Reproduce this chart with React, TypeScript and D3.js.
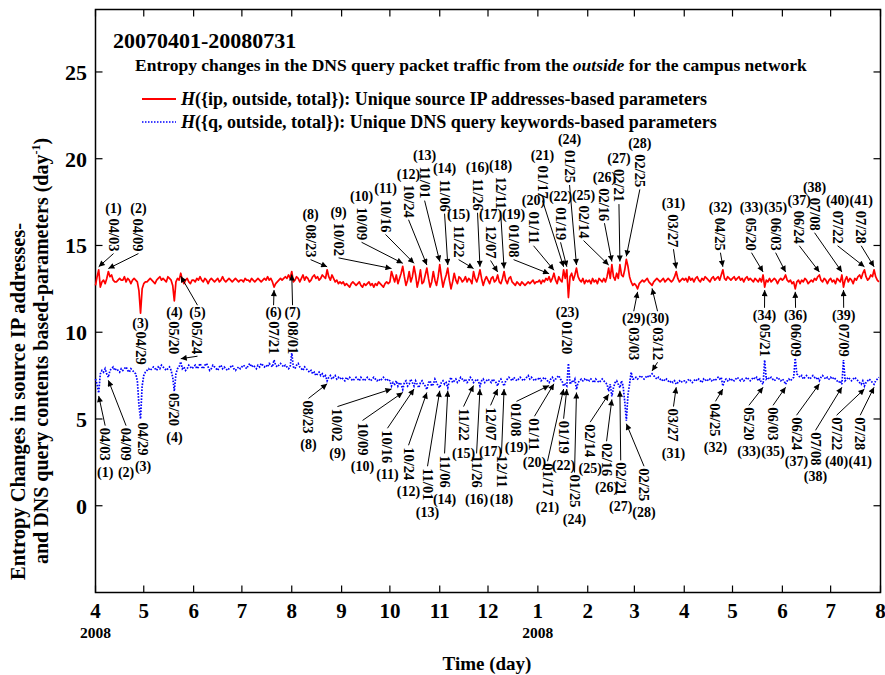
import React from 'react';
import * as d3 from 'd3';

// daily entropy values, 2007-04-01 .. 2008-07-31
const ipEntropy2007 = [
  // Apr
  12.7, 13.2, 13.6, 12.6, 12.9, 13.0, 12.8, 13.1, 13.5, 13.2, 13.3, 13.0, 12.9, 12.9, 13.0, 13.1, 13.0, 13.0, 13.2, 12.9,
  13.1, 13.0, 12.8, 13.0, 13.1, 13.0, 12.9, 12.4, 11.1, 12.5,
  // May
  12.8, 12.9, 12.9, 13.0, 13.1, 13.0, 12.9, 12.8, 13.0, 13.1, 13.2, 13.0, 13.1, 13.0, 12.9, 13.2, 13.1, 13.0, 12.7, 11.8,
  12.9, 13.1, 13.0, 13.4, 13.0, 12.8, 13.0, 13.1, 12.9, 12.8, 13.0,
  // Jun
  13.0, 12.9, 13.1, 13.0, 13.2, 13.0, 12.9, 13.1, 13.0, 12.8, 13.0, 13.1, 13.0, 12.9, 13.0, 13.1, 12.9, 13.0, 13.2, 13.0,
  12.9, 13.0, 13.1, 13.0, 12.9, 13.0, 13.1, 13.0, 12.9, 13.0,
  // Jul
  13.0, 12.9, 13.1, 13.0, 13.0, 12.9, 13.1, 13.0, 12.9, 13.0, 13.1, 13.0, 12.9, 13.0, 13.1, 13.0, 13.2, 13.0, 13.1, 12.9,
  12.6, 12.8, 12.9, 13.0, 13.1, 13.0, 13.1, 13.2, 13.1, 13.3, 13.1,
  // Aug
  13.5, 12.9, 13.0, 13.2, 13.1, 12.9, 13.1, 13.3, 13.0, 13.2, 13.1, 12.9, 13.0, 13.2, 13.3, 13.1, 13.2, 13.0, 13.1, 13.3,
  13.2, 13.1, 13.6, 13.2, 13.0, 13.3, 13.1, 12.9, 13.0, 12.8, 12.9,
  // Sep
  12.8, 12.9, 12.7, 12.8, 12.7, 12.6, 12.8, 12.9, 12.8, 12.7, 12.8, 12.9, 12.7, 12.6, 12.8, 12.7, 12.8, 12.9, 12.7, 12.8,
  12.6, 12.8, 12.7, 12.9, 12.8, 12.7, 12.6, 12.8, 12.9, 12.8,
  // Oct
  12.9, 13.5, 13.2, 12.9, 13.3, 12.8, 13.1, 13.4, 13.8, 13.2, 12.7, 13.0, 13.5, 12.9, 13.2, 13.8, 13.3, 12.6, 13.0, 13.6,
  12.8, 12.9, 13.3, 13.7, 13.1, 12.6, 12.9, 13.5, 13.0, 12.7, 13.2,
  // Nov
  13.9, 13.2, 12.6, 13.0, 13.3, 13.7, 13.0, 12.5, 12.9, 13.4, 13.0, 12.8, 13.2, 13.1, 12.9, 13.0, 13.2, 12.9, 13.1, 13.0,
  12.8, 13.5, 13.1, 12.9, 13.2, 13.6, 13.1, 12.7, 13.0, 13.2,
  // Dec
  13.0, 12.8, 13.1, 13.2, 12.9, 13.0, 13.3, 12.9, 12.8, 13.1, 13.5, 13.0, 12.8, 13.1, 13.2, 12.9, 12.8, 12.7, 12.9, 12.8,
  12.7, 12.9, 12.8, 12.7, 12.8, 12.9, 12.8, 12.9, 13.0, 12.8, 12.9,
];

const ipEntropy2008 = [
  // Jan
  12.9, 13.0, 12.8, 13.0, 12.9, 13.1, 13.0, 13.2, 12.9, 13.1, 13.4, 13.0, 12.8, 13.2, 13.0, 12.9, 13.6, 13.1, 13.6, 12.0,
  13.2, 13.4, 13.0, 13.3, 13.7, 13.2, 13.0, 12.9, 13.1, 12.8, 13.0,
  // Feb
  12.9, 13.0, 12.8, 13.1, 12.9, 13.0, 12.8, 13.1, 13.0, 12.9, 13.1, 12.9, 13.2, 13.7, 13.1, 13.9, 13.2, 13.0, 13.4, 13.1,
  13.9, 13.3, 13.2, 13.6, 14.2, 13.8, 13.2, 12.9, 12.7,
  // Mar
  12.8, 12.7, 12.5, 12.8, 12.9, 13.0, 12.9, 13.0, 13.1, 12.9, 12.8, 12.7, 12.9, 13.0, 13.1, 13.0, 12.9, 13.0, 13.1, 12.9,
  13.0, 13.1, 13.0, 12.9, 13.0, 13.2, 13.5, 13.1, 12.9, 13.0, 13.1,
  // Apr
  13.0, 13.1, 12.9, 13.2, 13.0, 13.1, 12.9, 13.1, 13.2, 13.0, 12.9, 13.1, 13.0, 13.2, 13.1, 13.0, 12.9, 13.1, 13.2, 13.0,
  13.1, 13.2, 13.0, 13.3, 13.6, 13.1, 13.0, 13.2, 13.1, 13.0,
  // May
  13.1, 13.2, 13.0, 13.1, 13.2, 13.0, 13.1, 12.9, 13.1, 13.2, 13.0, 13.1, 13.0, 12.9, 13.1, 13.0, 12.9, 13.1, 12.9, 13.3,
  12.6, 13.0, 12.9, 13.1, 12.9, 13.0, 13.1, 13.0, 12.8, 13.0, 13.1,
  // Jun
  13.0, 13.1, 13.3, 13.0, 12.9, 13.0, 12.8, 12.9, 12.5, 12.9, 13.0, 12.8, 13.0, 12.9, 13.1, 13.0, 12.8, 12.9, 13.0, 12.9,
  13.1, 13.0, 13.2, 13.3, 13.0, 12.9, 13.1, 13.0, 12.8, 13.0,
  // Jul
  13.1, 12.9, 13.0, 12.8, 13.1, 13.0, 12.9, 13.3, 12.6, 13.0, 13.2, 12.9, 13.1, 13.0, 12.8, 13.1, 13.0, 13.2, 13.3, 13.1,
  13.4, 13.6, 13.2, 13.0, 13.1, 13.3, 13.2, 13.6, 13.2, 13.0, 12.9,
];

const queryEntropy2007 = [
  // Apr
  7.3, 7.0, 6.5, 7.6, 7.8, 7.7, 7.9, 7.6, 7.4, 7.8, 7.9, 8.0, 7.8, 7.9, 7.8, 7.7, 7.9, 7.8, 7.9, 8.0,
  7.8, 7.7, 7.9, 7.8, 7.7, 7.6, 7.2, 5.8, 5.0, 6.9,
  // May
  7.5, 7.7, 7.8, 7.9, 7.8, 7.9, 8.0, 7.9, 7.8, 8.0, 7.9, 8.1, 8.0, 7.9, 7.8, 7.9, 8.0, 7.8, 7.4, 6.6,
  7.6, 7.9, 8.0, 8.3, 7.9, 8.0, 7.8, 7.9, 8.1, 8.0, 7.9,
  // Jun
  8.0, 8.1, 7.9, 8.0, 8.2, 8.0, 7.9, 8.1, 8.2, 8.0, 7.8, 7.9, 8.1, 8.0, 7.9, 7.8, 8.0, 8.1, 7.9, 8.0,
  7.9, 7.8, 7.9, 8.0, 8.1, 7.9, 7.8, 7.9, 8.0, 7.9,
  // Jul
  8.0, 8.1, 8.0, 7.9, 8.1, 8.2, 8.0, 8.1, 8.0, 7.9, 8.1, 8.0, 8.2, 8.1, 8.0, 8.1, 8.0, 8.2, 8.1, 8.0,
  8.4, 8.1, 8.0, 8.1, 8.2, 8.1, 8.0, 8.1, 8.0, 7.9, 8.0,
  // Aug
  8.8, 8.0, 7.9, 8.1, 8.2, 8.0, 7.9, 7.8, 8.0, 7.9, 7.8, 7.7, 7.8, 7.6, 7.7, 7.5, 7.6, 7.7, 7.5, 7.6,
  7.4, 7.5, 7.2, 7.4, 7.5, 7.3, 7.4, 7.5, 7.3, 7.4, 7.3,
  // Sep
  7.4, 7.3, 7.2, 7.4, 7.3, 7.4, 7.3, 7.2, 7.3, 7.4, 7.3, 7.2, 7.4, 7.3, 7.2, 7.3, 7.4, 7.3, 7.2, 7.3,
  7.4, 7.3, 7.2, 7.3, 7.2, 7.3, 7.4, 7.3, 7.2, 7.3,
  // Oct
  7.2, 6.9, 7.1, 7.0, 7.2, 6.9, 7.1, 7.0, 6.7, 7.1, 7.2, 6.9, 7.0, 7.3, 7.1, 6.9, 7.2, 7.0, 6.8, 7.1,
  7.2, 7.0, 6.9, 6.7, 7.1, 7.2, 6.9, 7.0, 7.3, 7.1, 6.9,
  // Nov
  6.8, 7.1, 7.2, 7.0, 7.1, 6.8, 7.2, 7.4, 7.1, 7.2, 7.3, 7.1, 7.2, 7.4, 7.3, 7.2, 7.3, 7.1, 7.2, 7.4,
  7.3, 7.1, 7.2, 7.3, 7.2, 6.9, 7.2, 7.3, 7.1, 7.2,
  // Dec
  7.3, 7.2, 7.1, 7.3, 7.2, 7.1, 6.9, 7.2, 7.3, 7.1, 6.9, 7.2, 7.3, 7.4, 7.3, 7.2, 7.4, 7.3, 7.2, 7.3,
  7.4, 7.3, 7.2, 7.3, 7.4, 7.5, 7.3, 7.4, 7.3, 7.2, 7.3,
];

const queryEntropy2008 = [
  // Jan
  7.3, 7.4, 7.2, 7.3, 7.4, 7.3, 7.2, 7.1, 7.3, 7.4, 7.2, 7.3, 7.4, 7.5, 7.3, 7.2, 6.9, 7.0, 6.9, 8.2,
  7.0, 7.2, 7.1, 7.3, 6.7, 7.1, 7.2, 7.3, 7.2, 7.3, 7.2,
  // Feb
  7.3, 7.2, 7.3, 7.2, 7.1, 7.3, 7.2, 7.1, 7.2, 7.3, 7.2, 7.1, 7.0, 6.6, 7.0, 6.3, 6.8, 7.1, 7.2, 7.0,
  6.8, 7.2, 6.9, 6.0, 4.9, 6.4, 7.0, 7.7, 7.3,
  // Mar
  7.3, 7.4, 7.3, 7.4, 7.5, 7.4, 7.3, 7.4, 7.5, 7.4, 7.5, 7.6, 7.5, 7.4, 7.3, 7.4, 7.3, 7.2, 7.3, 7.2,
  7.3, 7.2, 7.1, 7.2, 7.1, 7.2, 7.0, 7.1, 7.2, 7.1, 7.2,
  // Apr
  7.2, 7.1, 7.2, 7.3, 7.2, 7.1, 7.2, 7.3, 7.2, 7.3, 7.2, 7.1, 7.3, 7.2, 7.3, 7.2, 7.3, 7.2, 7.3, 7.2,
  7.3, 7.4, 7.3, 7.4, 6.9, 7.2, 7.3, 7.2, 7.3, 7.2,
  // May
  7.3, 7.2, 7.3, 7.4, 7.3, 7.2, 7.3, 7.2, 7.3, 7.4, 7.3, 7.2, 7.3, 7.4, 7.3, 7.4, 7.2, 7.3, 7.1, 7.0,
  8.4, 7.3, 7.4, 7.3, 7.4, 7.3, 7.2, 7.3, 7.4, 7.3, 7.2,
  // Jun
  7.3, 7.2, 7.0, 7.2, 7.3, 7.2, 7.3, 7.4, 8.5, 7.6, 7.5, 7.4, 7.5, 7.3, 7.4, 7.5, 7.4, 7.3, 7.4, 7.5,
  7.4, 7.3, 7.4, 7.2, 7.4, 7.5, 7.4, 7.3, 7.4, 7.3,
  // Jul
  7.4, 7.3, 7.4, 7.3, 7.2, 7.1, 7.2, 7.0, 8.4, 7.2, 7.3, 7.4, 7.3, 7.2, 7.3, 7.4, 7.3, 7.2, 7.1, 7.0,
  7.2, 6.9, 7.1, 7.2, 7.3, 7.2, 7.1, 7.0, 7.2, 7.3, 7.4,
];

const monthLabels = ['4', '5', '6', '7', '8', '9', '10', '11', '12', '1', '2', '3', '4', '5', '6', '7', '8'];
const yearLabels = ['2008', '', '', '', '', '', '', '', '', '2008', '', '', '', '', '', '', ''];
const yTickValues = [0, 5, 10, 15, 20, 25];

// annotations above the ip curve: [no, date, label day (from 2007-04-01), label value]
const ipAboveNotes: [number, string, number, number][] = [
  [1, '2007-04-03', 11.2, 14.65], [2, '2007-04-09', 26.7, 14.65], [8, '2007-08-23', 133.7, 14.3],
  [9, '2007-10-02', 151.1, 14.4], [10, '2007-10-09', 165.4, 15.3], [11, '2007-10-16', 180.3, 15.75],
  [12, '2007-10-24', 194.6, 16.6], [13, '2007-11-01', 204.6, 17.7], [14, '2007-11-06', 217.0, 16.95],
  [15, '2007-11-22', 225.7, 14.3], [16, '2007-11-26', 237.5, 17.0], [17, '2007-12-07', 245.6, 14.25],
  [18, '2007-12-11', 251.8, 17.1], [19, '2008-01-08', 259.9, 14.3], [20, '2008-01-11', 272.3, 15.1],
  [21, '2008-01-17', 277.9, 17.7], [22, '2008-01-19', 289.1, 15.3], [24, '2008-01-25', 294.7, 18.6],
  [25, '2008-02-14', 303.4, 15.4], [26, '2008-02-16', 316.4, 16.4], [27, '2008-02-21', 325.4, 17.5],
  [28, '2008-02-25', 338.4, 18.35], [31, '2008-03-27', 359.3, 14.9], [32, '2008-04-25', 388.5, 14.7],
  [33, '2008-05-20', 407.8, 14.7], [35, '2008-06-03', 422.8, 14.7], [37, '2008-06-24', 437.5, 15.1],
  [38, '2008-07-08', 447.0, 15.85], [40, '2008-07-22', 461.3, 15.1], [41, '2008-07-28', 476.0, 15.1],
];

// annotations between the curves: [no, date, label day, label value, arrow to ip, arrow to query]
const midNotes: [number, string, number, number, boolean, boolean][] = [
  [3, '2007-04-29', 28.0, 10.9, false, false], [4, '2007-05-20', 49.1, 11.5, false, false],
  [5, '2007-05-24', 63.4, 11.5, true, true], [6, '2007-07-21', 110.7, 11.5, true, false],
  [7, '2007-08-01', 122.5, 11.5, true, false], [23, '2008-01-20', 293.4, 11.5, false, false],
  [29, '2008-03-03', 334.6, 11.15, true, false], [30, '2008-03-12', 349.4, 11.15, true, true],
  [34, '2008-05-21', 415.9, 11.35, true, false], [36, '2008-06-09', 435.2, 11.35, true, false],
  [39, '2008-07-09', 465.1, 11.35, true, false],
];

// annotations below the query curve: [no, date, label day, label value, arrow]
const queryBelowNotes: [number, string, number, number, boolean][] = [
  [1, '2007-04-03', 6.0, 4.5, true], [2, '2007-04-09', 19.0, 4.5, true], [3, '2007-04-29', 29.6, 4.8, false],
  [4, '2007-05-20', 49.1, 6.5, false], [8, '2007-08-23', 132.4, 6.07, true], [9, '2007-10-02', 150.4, 5.6, true],
  [10, '2007-10-09', 166.0, 4.8, true], [11, '2007-10-16', 181.5, 4.35, true], [12, '2007-10-24', 194.6, 3.37, true],
  [13, '2007-11-01', 206.4, 2.16, true], [14, '2007-11-06', 217.0, 2.9, true], [15, '2007-11-22', 228.8, 5.6, true],
  [16, '2007-11-26', 236.9, 2.9, true], [17, '2007-12-07', 245.6, 5.67, true], [18, '2007-12-11', 252.4, 2.9, true],
  [19, '2008-01-08', 261.7, 5.9, true], [20, '2008-01-11', 272.9, 5.04, true], [21, '2008-01-17', 281.0, 2.45, true],
  [22, '2008-01-19', 291.0, 4.9, true], [24, '2008-01-25', 297.8, 1.8, true], [25, '2008-02-14', 307.5, 4.7, true],
  [26, '2008-02-16', 317.7, 3.6, true], [27, '2008-02-21', 326.5, 2.5, true], [28, '2008-02-25', 341.0, 2.16, true],
  [31, '2008-03-27', 359.3, 5.6, true], [32, '2008-04-25', 385.4, 5.9, true], [33, '2008-05-20', 406.2, 5.67, true],
  [35, '2008-06-03', 421.2, 5.67, true], [37, '2008-06-24', 435.8, 5.1, true], [38, '2008-07-08', 447.6, 4.23, true],
  [40, '2008-07-22', 460.7, 5.1, true], [41, '2008-07-28', 475.4, 5.1, true],
];

const FONT = '"Liberation Serif", "Times New Roman", serif';
const DATE_LEN = 34;

const parse = d3.timeParse('%Y-%m-%d');
const fmt = d3.timeFormat('%m/%d');

type Pt = { date: Date; v: number };

export default function App() {
  const start = new Date(2007, 3, 1);
  const end = new Date(2008, 7, 1);
  const x = d3.scaleTime().domain([start, end]).range([95.5, 880.5]);
  const y = d3.scaleLinear().domain([-5, 28.6]).range([592.5, 9.5]);

  const ipVals = ipEntropy2007.concat(ipEntropy2008);
  const qVals = queryEntropy2007.concat(queryEntropy2008);
  const toPts = (vals: number[]): Pt[] => vals.map((v, i) => ({ date: d3.timeDay.offset(start, i), v }));
  const line = d3.line<Pt>().x(d => x(d.date)).y(d => y(d.v));
  const dayX = (d: number) => x(new Date(+start + d * 864e5));
  const at = (vals: number[], date: Date) => vals[d3.timeDay.count(start, date)];

  const months = d3.timeMonth.range(start, d3.timeMonth.offset(end, 1));

  return (
    <svg width={885} height={675} style={{ position: 'absolute', left: 0, top: 0, background: '#fff' }}>
      <defs>
        <marker id="ah" viewBox="0 0 10 10" refX="10" refY="5" markerWidth="8" markerHeight="6"
          orient="auto" markerUnits="userSpaceOnUse">
          <path d="M0,0 L10,5 L0,10 z" fill="#000" />
        </marker>
      </defs>
      <g fontFamily={FONT} fontWeight="bold" fill="#000">
        {/* frame and ticks */}
        <rect x={95.5} y={9.5} width={785} height={583} fill="none" stroke="#000" strokeWidth={1.5} />
        {months.map((m, i) => (
          <g key={'mt' + i}>
            <line x1={x(m)} x2={x(m)} y1={592.5} y2={585.5} stroke="#000" strokeWidth={1.2} />
            <line x1={x(m)} x2={x(m)} y1={9.5} y2={16.5} stroke="#000" strokeWidth={1.2} />
            <text x={x(m)} y={618} textAnchor="middle" fontSize={21}>{monthLabels[i]}</text>
            {yearLabels[i] && <text x={x(m)} y={638} textAnchor="middle" fontSize={15.5}>{yearLabels[i]}</text>}
          </g>
        ))}
        {yTickValues.map(v => (
          <g key={'yt' + v}>
            <line x1={95.5} x2={102.5} y1={y(v)} y2={y(v)} stroke="#000" strokeWidth={1.2} />
            <line x1={880.5} x2={873.5} y1={y(v)} y2={y(v)} stroke="#000" strokeWidth={1.2} />
            <text x={87} y={y(v) + 8} textAnchor="end" fontSize={22}>{v}</text>
          </g>
        ))}
        <text x={487} y={670} textAnchor="middle" fontSize={19}>Time (day)</text>
        <text transform="translate(25,580) rotate(-90)" fontSize={20.5}>Entropy Changes in source IP addresses-</text>
        <text transform="translate(48,564) rotate(-90)" fontSize={20}>
          and DNS query contents based-parameters (day<tspan fontSize={12} dy={-8}>-1</tspan><tspan dy={8}>)</tspan>
        </text>

        {/* title and legend */}
        <text x={113} y={48} fontSize={22}>20070401-20080731</text>
        <text x={135} y={71} fontSize={17.5}>
          Entropy changes in the DNS query packet traffic from the <tspan fontStyle="italic">outside</tspan> for the campus network
        </text>
        <line x1={142} x2={176} y1={99} y2={99} stroke="#ff0000" strokeWidth={1.8} />
        <text x={181} y={105} fontSize={18}>
          <tspan fontStyle="italic">H</tspan>{'({ip, outside, total}): Unique source IP addresses-based parameters'}
        </text>
        <line x1={142} x2={176} y1={122} y2={122} stroke="#0000ff" strokeWidth={1.6} strokeDasharray="1.5 1.5" />
        <text x={181} y={128} fontSize={18}>
          <tspan fontStyle="italic">H</tspan>{'({q, outside, total}):  Unique DNS query keywords-based parameters'}
        </text>

        {/* series */}
        <path d={line(toPts(ipVals)) || ''} fill="none" stroke="#ff0000" strokeWidth={1.7} strokeLinejoin="round" />
        <path d={line(toPts(qVals)) || ''} fill="none" stroke="#0000ff" strokeWidth={1.7} strokeDasharray="1.6 1.4" />

        {/* annotations */}
        <g fontSize={14.5}>
          {ipAboveNotes.map(([n, ds, lx, lv]) => {
            const date = parse(ds)!;
            const px = dayX(lx), py = y(lv);
            return (
              <g key={'ia' + n}>
                <line x1={px} y1={py + 2} x2={x(date)} y2={y(at(ipVals, date)) - 3} stroke="#000" strokeWidth={1} markerEnd="url(#ah)" />
                <text transform={`translate(${px},${py}) rotate(90)`} textAnchor="end" dominantBaseline="central">{fmt(date)}</text>
                <text x={px} y={py - DATE_LEN - 5} textAnchor="middle" fontSize={14}>({n})</text>
              </g>
            );
          })}
          {midNotes.map(([n, ds, lx, lv, toIp, toQ]) => {
            const date = parse(ds)!;
            const px = dayX(lx), top = y(lv);
            return (
              <g key={'m' + n}>
                {toIp && <line x1={px} y1={top - 1} x2={x(date)} y2={y(at(ipVals, date)) + 3} stroke="#000" strokeWidth={1} markerEnd="url(#ah)" />}
                {toQ && <line x1={px} y1={top + 16 + DATE_LEN} x2={x(date)} y2={y(at(qVals, date)) - 3} stroke="#000" strokeWidth={1} markerEnd="url(#ah)" />}
                <text x={px} y={top + 11} textAnchor="middle" fontSize={14}>({n})</text>
                <text transform={`translate(${px},${top + 15}) rotate(90)`} dominantBaseline="central">{fmt(date)}</text>
              </g>
            );
          })}
          {queryBelowNotes.map(([n, ds, lx, lv, arrow]) => {
            const date = parse(ds)!;
            const px = dayX(lx), top = y(lv);
            return (
              <g key={'q' + n}>
                {arrow && <line x1={px} y1={top - 2} x2={x(date)} y2={y(at(qVals, date)) + 3} stroke="#000" strokeWidth={1} markerEnd="url(#ah)" />}
                <text transform={`translate(${px},${top}) rotate(90)`} dominantBaseline="central">{fmt(date)}</text>
                <text x={px} y={top + DATE_LEN + 15} textAnchor="middle" fontSize={14}>({n})</text>
              </g>
            );
          })}
        </g>
      </g>
    </svg>
  );
}
